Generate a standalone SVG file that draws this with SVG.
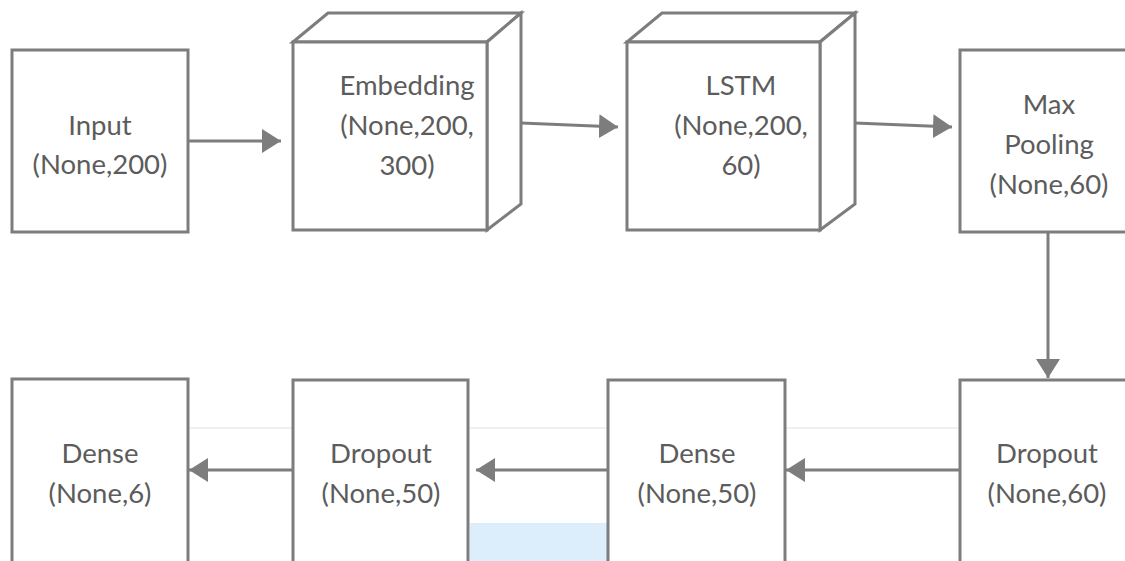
<svg xmlns="http://www.w3.org/2000/svg" width="1125" height="561" viewBox="0 0 1125 561">
<style>
.box{fill:#fff;stroke:#7d7d7d;stroke-width:3;stroke-linejoin:miter}
.lbl{font-family:Lato,"Open Sans","Liberation Sans",sans-serif;font-size:27.5px;fill:#5c5c5c;text-anchor:middle}
.con{fill:none;stroke:#7d7d7d;stroke-width:3}
</style>
<defs>
<marker id="ah" markerUnits="userSpaceOnUse" markerWidth="22" markerHeight="26" refX="19" refY="12" orient="auto">
<path d="M0,0 L19,12 L0,24 Z" fill="#7d7d7d"/>
</marker>
</defs>
<rect width="1125" height="561" fill="#fff"/>
<g id="background">
<line x1="190" y1="428" x2="960" y2="428" stroke="#f0f0f0" stroke-width="2"/>
<rect x="470" y="523" width="138" height="38" fill="#dcedfb"/>
</g>
<g id="connectors">
<line class="con" x1="188" y1="141" x2="281" y2="141" marker-end="url(#ah)"/>
<line class="con" x1="521" y1="123" x2="618" y2="127" marker-end="url(#ah)"/>
<line class="con" x1="855" y1="123" x2="952" y2="127" marker-end="url(#ah)"/>
<line class="con" x1="1048" y1="232" x2="1048" y2="378" marker-end="url(#ah)"/>
<line class="con" x1="960" y1="470" x2="786" y2="470" marker-end="url(#ah)"/>
<line class="con" x1="608" y1="470" x2="476" y2="470" marker-end="url(#ah)"/>
<line class="con" x1="293" y1="470" x2="189" y2="470" marker-end="url(#ah)"/>
</g>
<g id="input">
<rect class="box" x="12" y="50" width="176" height="182"/>
<text class="lbl" x="100" y="135">Input</text>
<text class="lbl" x="100" y="174">(None,200)</text>
</g>
<g id="embedding">
<polygon class="box" points="293,42 328,13 521,13 487,42"/>
<polygon class="box" points="487,42 521,13 521,204 487,230"/>
<rect class="box" x="293" y="42" width="194" height="188"/>
<text class="lbl" x="407" y="95">Embedding</text>
<text class="lbl" x="407" y="135">(None,200,</text>
<text class="lbl" x="407" y="175">300)</text>
</g>
<g id="lstm">
<polygon class="box" points="627,42 662,13 855,13 820,42"/>
<polygon class="box" points="820,42 855,13 855,204 820,230"/>
<rect class="box" x="627" y="42" width="193" height="188"/>
<text class="lbl" x="741" y="95">LSTM</text>
<text class="lbl" x="741" y="135">(None,200,</text>
<text class="lbl" x="741" y="175">60)</text>
</g>
<g id="maxpooling">
<rect class="box" x="960" y="50" width="178" height="182"/>
<text class="lbl" x="1049" y="114">Max</text>
<text class="lbl" x="1049" y="154">Pooling</text>
<text class="lbl" x="1049" y="194">(None,60)</text>
</g>
<g id="dropout60">
<rect class="box" x="960" y="380" width="178" height="200"/>
<text class="lbl" x="1047" y="463">Dropout</text>
<text class="lbl" x="1047" y="503">(None,60)</text>
</g>
<g id="dense50">
<rect class="box" x="608" y="380" width="177" height="200"/>
<text class="lbl" x="697" y="463">Dense</text>
<text class="lbl" x="697" y="503">(None,50)</text>
</g>
<g id="dropout50">
<rect class="box" x="293" y="380" width="175" height="200"/>
<text class="lbl" x="381" y="463">Dropout</text>
<text class="lbl" x="381" y="503">(None,50)</text>
</g>
<g id="dense6">
<rect class="box" x="12" y="379" width="176" height="200"/>
<text class="lbl" x="100" y="463">Dense</text>
<text class="lbl" x="100" y="503">(None,6)</text>
</g>
</svg>
